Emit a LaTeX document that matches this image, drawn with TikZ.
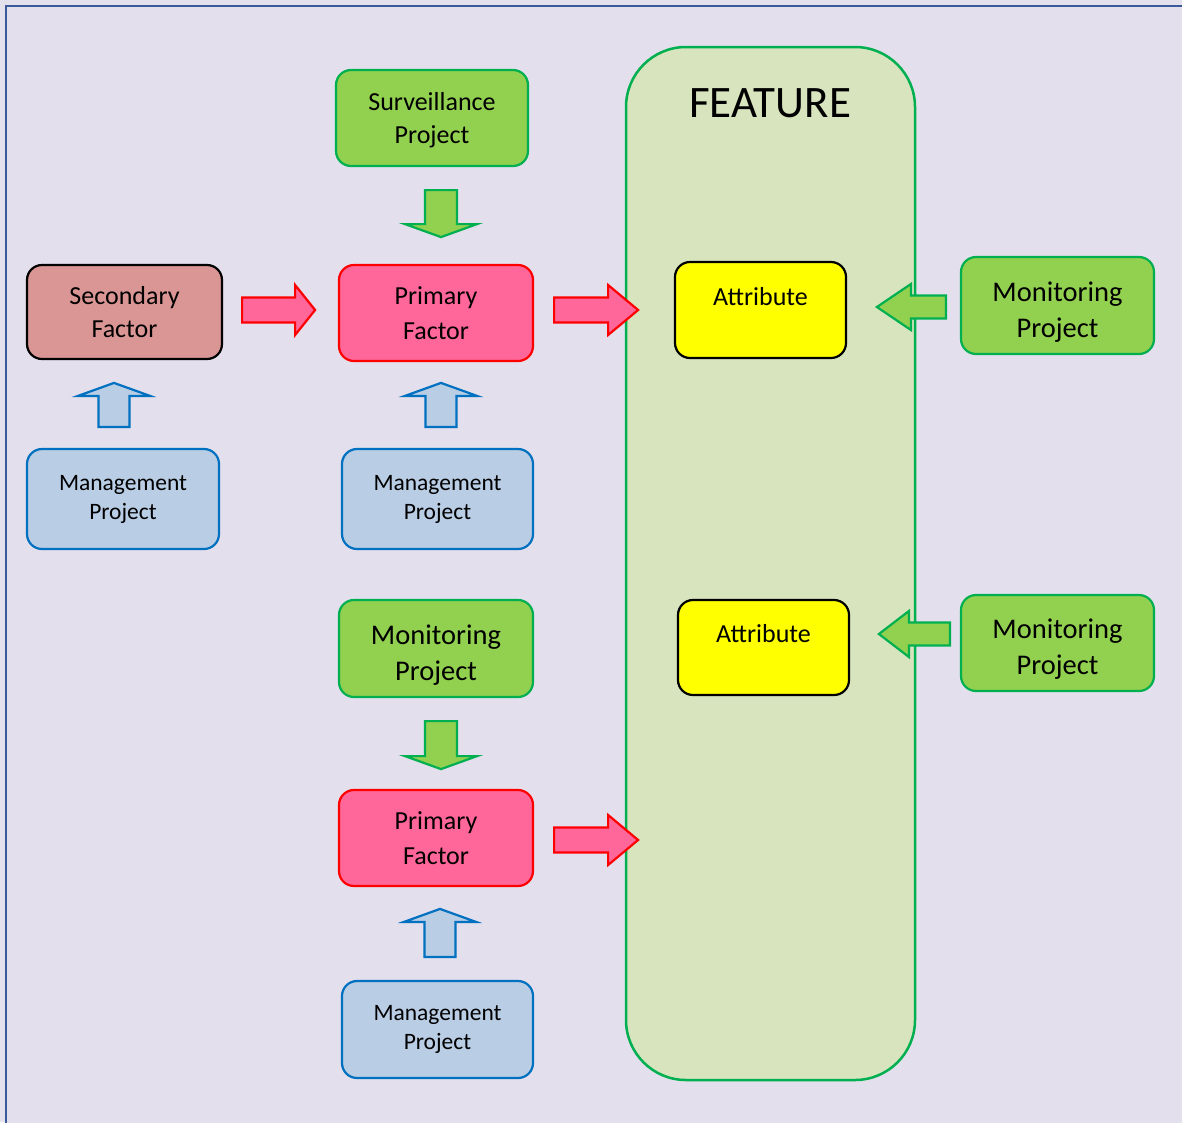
\documentclass[tikz,border=0pt]{standalone}
\usepackage{fontspec}
\setmainfont{Carlito}
\usetikzlibrary{calc}

\definecolor{pagebg}{HTML}{E2E1EC}
\definecolor{panelbg}{HTML}{E4DFEC}
\definecolor{framec}{HTML}{3A5A9A}
\definecolor{featfill}{HTML}{D7E4BD}
\definecolor{grn}{HTML}{00B050}
\definecolor{grnfill}{HTML}{92D050}
\definecolor{secfill}{HTML}{D99694}
\definecolor{pinkfill}{HTML}{FF6699}
\definecolor{redline}{HTML}{FF0000}
\definecolor{bluefill}{HTML}{B9CDE5}
\definecolor{blueline}{HTML}{0070C0}
\definecolor{yel}{HTML}{FFFF00}

% block arrow: style, tail point, direction, length, shaft half width, head half width, head length
\newcommand\blockarrow[7]{%
  \draw[#1,shift={#2},rotate=#3] (0,-#5) -- ({#4-#7},-#5) -- ({#4-#7},-#6) -- (#4,0)
    -- ({#4-#7},#6) -- ({#4-#7},#5) -- (0,#5) -- cycle;}

\tikzset{
  card/.style={rounded corners=15, line width=2.2pt, align=center, inner sep=0pt},
  survbox/.style={card, fill=grnfill, draw=grn, font=\fontsize{26}{33}\selectfont, text depth=-1pt},
  monbox/.style={card, fill=grnfill, draw=grn, font=\fontsize{28.5}{36}\selectfont,
    text height=66pt, text depth=3pt},
  secbox/.style={card, fill=secfill, draw=black, font=\fontsize{26}{33}\selectfont, text depth=-4pt},
  primbox/.style={card, fill=pinkfill, draw=redline, font=\fontsize{26}{35}\selectfont, text depth=-4pt},
  mgmtbox/.style={card, fill=bluefill, draw=blueline, font=\fontsize{23.5}{29}\selectfont},
  attrbox/.style={card, fill=yel, draw=black, font=\fontsize{26}{32}\selectfont, text depth=28pt},
  featbox/.style={rounded corners=60, line width=2.5pt, fill=featfill, draw=grn},
  redarrow/.style={fill=pinkfill, draw=redline, line width=2.2pt},
  grnarrow/.style={fill=grnfill, draw=grn, line width=2.2pt},
  bluarrow/.style={fill=bluefill, draw=blueline, line width=2.2pt},
}

\begin{document}
\begin{tikzpicture}[x=1pt,y=-1pt]
\useasboundingbox (0,0) rectangle (1182,1122);
\fill[pagebg] (0,0) rectangle (1182,1122);
\begin{scope}
  \clip (0,0) rectangle (1182,1122);
  \draw[fill=panelbg, draw=framec, line width=2.8pt] (6,6) rectangle (1210,1150);
\end{scope}

% feature column
\node[featbox, minimum width=289, minimum height=1033] (feat) at (770.5,563.5) {};
\node[font=\fontsize{45}{54}\selectfont] (feattitle) at (770,103) {FEATURE};

% boxes
\node[survbox, minimum width=192, minimum height=96] (surv) at (432,118) {Surveillance\\Project};
\node[secbox, minimum width=195, minimum height=94] (sec) at (124.5,312) {Secondary\\Factor};
\node[primbox, minimum width=194, minimum height=96] (pf1) at (436,313) {Primary\\Factor};
\node[attrbox, minimum width=171, minimum height=96] (att1) at (760.5,310) {Attribute};
\node[monbox, minimum width=193, minimum height=97] (mon1) at (1057.5,305.5) {Monitoring\\Project};
\node[mgmtbox, minimum width=192, minimum height=100] (mg1) at (123,499) {Management\\Project};
\node[mgmtbox, minimum width=191, minimum height=100] (mg2) at (437.5,499) {Management\\Project};
\node[monbox, minimum width=194, minimum height=97] (mon2) at (436,648.5) {Monitoring\\Project};
\node[attrbox, minimum width=171, minimum height=95] (att2) at (763.5,647.5) {Attribute};
\node[monbox, minimum width=193, minimum height=96] (mon3) at (1057.5,643) {Monitoring\\Project};
\node[primbox, minimum width=194, minimum height=96] (pf2) at (436,838) {Primary\\Factor};
\node[mgmtbox, minimum width=191, minimum height=97] (mg3) at (437.5,1029.5) {Management\\Project};

% arrow tails
\coordinate (t1) at ($(surv.south)+(9,23)$);
\coordinate (t2) at ($(sec.east)+(19,-2)$);
\coordinate (t3) at ($(pf1.east)+(20,-3)$);
\coordinate (t4) at ($(mon1.west)+(-14,1.5)$);
\coordinate (t5) at ($(mg1.north)+(-9,-21)$);
\coordinate (t6) at ($(mg2.north)+(3.5,-21)$);
\coordinate (t7) at ($(mon2.south)+(5,23)$);
\coordinate (t8) at ($(pf2.east)+(20,2)$);
\coordinate (t9) at ($(mg3.north)+(2.5,-23)$);
\coordinate (t10) at ($(mon3.west)+(-10,-9)$);

% block arrows
\blockarrow{grnarrow}{(t1)}{-90}{47}{16}{36}{13}
\blockarrow{redarrow}{(t2)}{0}{73}{12.5}{25}{20}
\blockarrow{redarrow}{(t3)}{0}{84}{12.5}{25}{30}
\blockarrow{grnarrow}{(t4)}{180}{69}{11.5}{23}{34}
\blockarrow{bluarrow}{(t5)}{90}{44}{15.5}{36}{13}
\blockarrow{bluarrow}{(t6)}{90}{44}{15.5}{36}{13}
\blockarrow{grnarrow}{(t7)}{-90}{48}{16}{36}{13}
\blockarrow{redarrow}{(t8)}{0}{84}{12.5}{25}{30}
\blockarrow{bluarrow}{(t9)}{90}{48}{15.5}{36}{13}
\blockarrow{grnarrow}{(t10)}{180}{71}{11.5}{23}{30}
\end{tikzpicture}
\end{document}
